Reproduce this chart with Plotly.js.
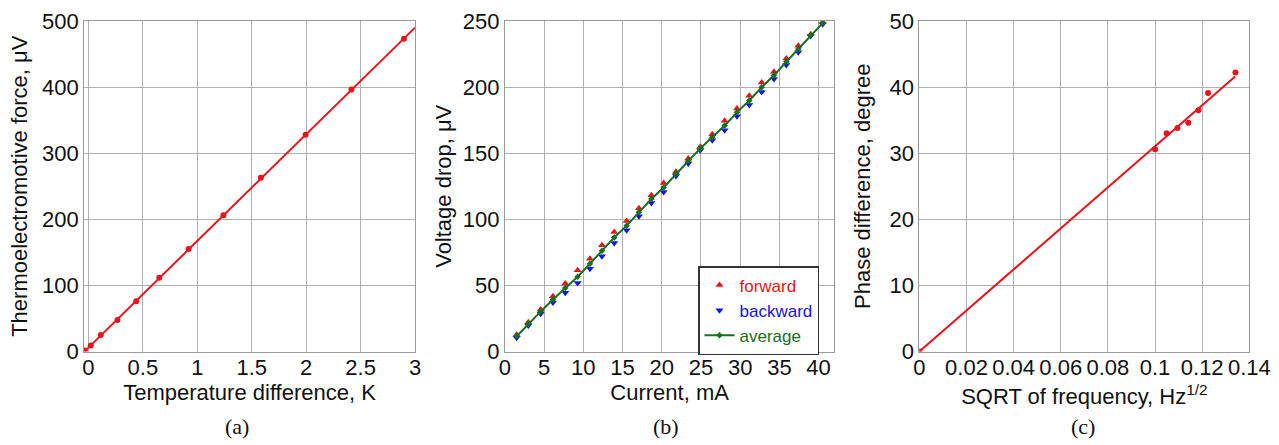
<!DOCTYPE html>
<html>
<head>
<meta charset="utf-8">
<script src="https://cdn.plot.ly/plotly-3.0.1.min.js"></script>
<style>html,body{margin:0;padding:0;background:#fff}#chart{width:1279px;height:445px}</style>
</head>
<body>
<div id="chart"></div>
<script>
// Panel (a): thermoelectromotive force vs temperature difference
const tempDiff = [-0.033, 0.022, 0.114, 0.267, 0.439, 0.651, 0.921, 1.240, 1.584, 1.995, 2.416, 2.898];
const emf      = [1.5, 9, 25, 47.5, 76, 111.6, 155, 206, 263, 328, 396.5, 473];
const fitTempX = [-0.03, 3.0];
const fitTempY = [1, 490];

// Panel (b): voltage drop vs current
const current  = [1.49, 2.98, 4.55, 6.12, 7.69, 9.27, 10.84, 12.37, 13.94, 15.52, 17.09, 18.67, 20.24,
                  21.81, 23.38, 24.91, 26.44, 28.02, 29.59, 31.16, 32.74, 34.31, 35.88, 37.41, 38.99, 40.52];
const forwardV = [12.6, 22.2, 31.8, 41.7, 51.5, 61.4, 70.2, 80.3, 90.4, 98.7, 108.3, 118.2, 127.5,
                  135.9, 146, 154.8, 164.4, 174.5, 183.8, 193.4, 203.5, 211.6, 221.7, 231.3, 239.9, 249.2];
const backwardV= [10.4, 19.7, 28.5, 37.1, 44.4, 51.8, 62.6, 72, 82, 91.7, 102.3, 112.4, 120.7,
                  132.8, 142.2, 152.3, 159.8, 167.4, 178, 186.4, 196.2, 206.1, 216.7, 226.3, 238.6, 247.5];
const averageV = [11.5, 21.0, 30.2, 39.4, 48.0, 56.6, 66.4, 76.2, 86.2, 95.2, 105.3, 115.3, 124.1,
                  134.4, 144.1, 153.6, 162.1, 171.0, 180.9, 189.9, 199.9, 208.9, 219.2, 228.8, 239.3, 248.4];

// Panel (c): phase difference vs sqrt of frequency
const sqrtFreq = [0, 0.1000, 0.1049, 0.1095, 0.1141, 0.1184, 0.1225, 0.1341];
const phase    = [0, 30.6, 33.0, 33.8, 34.6, 36.5, 39.1, 42.2];
const fitSqrtX = [0, 0.134];
const fitSqrtY = [0, 41.6];

const panelLabels = ['(a)', '(b)', '(c)'];

const RED = '#e8141b', BLUE = '#1414e6', GREEN = '#17701f';
const FONT = 'Liberation Sans, Arial, sans-serif';

const traces = [
  {x: fitTempX, y: fitTempY, xaxis: 'x', yaxis: 'y', mode: 'lines', line: {color: RED, width: 2}, showlegend: false},
  {x: tempDiff, y: emf, xaxis: 'x', yaxis: 'y', mode: 'markers', marker: {color: RED, size: 6}, showlegend: false},

  {x: current, y: forwardV, xaxis: 'x2', yaxis: 'y2', mode: 'markers', name: '<span style="color:' + RED + '">forward</span>',
   marker: {color: RED, symbol: 'triangle-up', size: 7}},
  {x: current, y: backwardV, xaxis: 'x2', yaxis: 'y2', mode: 'markers', name: '<span style="color:' + BLUE + '">backward</span>',
   marker: {color: BLUE, symbol: 'triangle-down', size: 7}},
  {x: current, y: averageV, xaxis: 'x2', yaxis: 'y2', mode: 'lines+markers', name: '<span style="color:' + GREEN + '">average</span>',
   line: {color: GREEN, width: 2}, marker: {color: GREEN, symbol: 'diamond', size: 5}},

  {x: fitSqrtX, y: fitSqrtY, xaxis: 'x3', yaxis: 'y3', mode: 'lines', line: {color: RED, width: 2}, showlegend: false},
  {x: sqrtFreq, y: phase, xaxis: 'x3', yaxis: 'y3', mode: 'markers', marker: {color: RED, size: 6}, showlegend: false}
];

const GRID = '#b0b0b0', LINE = '#9a9a9a';
function ax(extra) {
  return Object.assign({
    showgrid: true, gridcolor: GRID, gridwidth: 1,
    showline: true, linecolor: LINE, linewidth: 1, mirror: true,
    zeroline: false, ticks: '', ticklen: 0, tickfont: {family: FONT, size: 22, color: '#111'},
    fixedrange: true
  }, extra);
}
const yDom = [0.2101, 0.9528];
const layout = {
  width: 1279, height: 445,
  margin: {l: 0, r: 0, t: 0, b: 0},
  paper_bgcolor: '#fff', plot_bgcolor: '#fff',
  font: {family: FONT, size: 22, color: '#111'},
  xaxis: ax({domain: [0.0657, 0.3245], range: [-0.04, 3], dtick: 0.5, anchor: 'y', ticklabelstandoff: -4,
             title: {text: 'Temperature difference, K', font: {size: 22}, standoff: 1}}),
  yaxis: ax({domain: yDom, range: [0, 500], dtick: 100, anchor: 'x',
             title: {text: 'Thermoelectromotive force, μV', font: {size: 22}, standoff: 8}}),
  xaxis2: ax({domain: [0.3948, 0.6523], range: [0, 42], dtick: 5, anchor: 'y2', ticklabelstandoff: -4,
             title: {text: 'Current, mA', font: {size: 22}, standoff: 1}}),
  yaxis2: ax({domain: yDom, range: [0, 250], dtick: 50, anchor: 'x2',
             title: {text: 'Voltage drop, μV', font: {size: 22}, standoff: 5}}),
  xaxis3: ax({domain: [0.7188, 0.9768], range: [0, 0.14], dtick: 0.02, anchor: 'y3', ticklabelstandoff: -4,
             title: {text: 'SQRT of frequency, Hz<sup>1/2</sup>', font: {size: 22}, standoff: 9}}),
  yaxis3: ax({domain: yDom, range: [0, 50], dtick: 10, anchor: 'x3',
             title: {text: 'Phase difference, degree', font: {size: 22}, standoff: 12}}),
  showlegend: true,
  legend: {x: 698 / 1279, y: 1 - 266 / 445, xanchor: 'left', yanchor: 'top',
           bgcolor: '#fff', bordercolor: '#333', borderwidth: 1.5,
           font: {family: FONT, size: 17}, itemwidth: 30},
  annotations: panelLabels.map((t, i) => ({
    text: t, xref: 'paper', yref: 'paper', showarrow: false,
    x: [237, 666, 1083][i] / 1279, y: 1 - 426 / 445, xanchor: 'center', yanchor: 'middle',
    font: {family: 'Liberation Serif, Times New Roman, serif', size: 22, color: '#111'}
  }))
};
Plotly.newPlot('chart', traces, layout, {displayModeBar: false, staticPlot: true});
</script>
</body>
</html>
